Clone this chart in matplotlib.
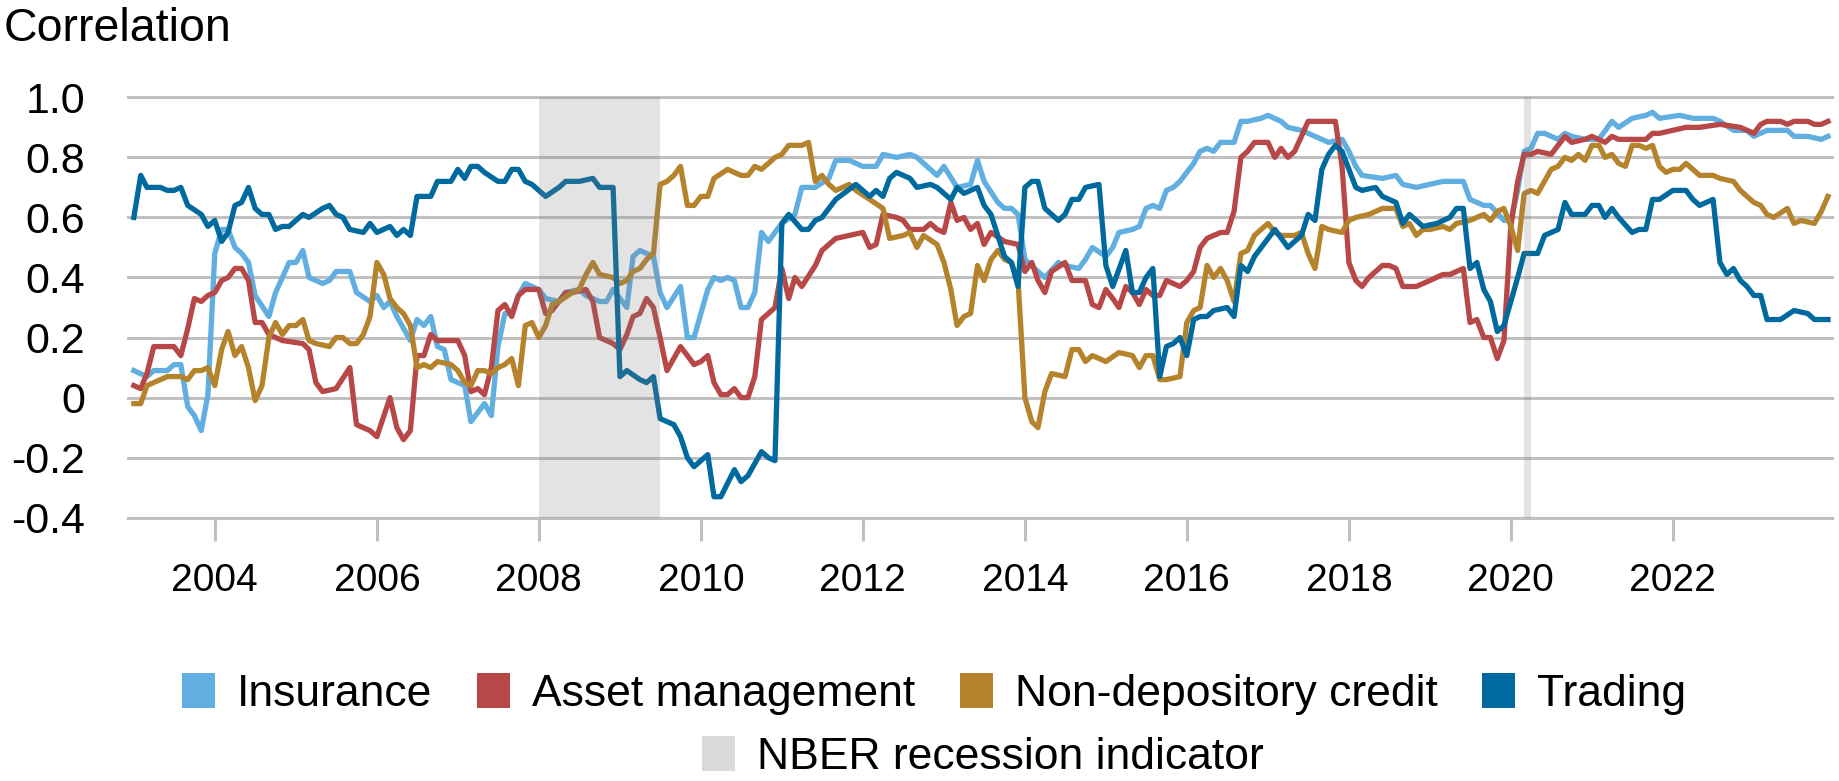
import matplotlib
matplotlib.use("Agg")
import matplotlib.pyplot as plt
import matplotlib.dates as mdates
from matplotlib.patches import Patch
import pandas as pd

plt.rcParams['font.family'] = ['Liberation Sans', 'DejaVu Sans']

# month numbers: 0 = Jan 2003 ... 251 = Dec 2023
ins_m = [0, 2, 3, 5, 6, 7, 8, 9, 10, 11,
         12, 13, 14, 15, 16, 17, 18, 20, 21, 22,
         23, 24, 25, 26, 28, 29, 30, 32, 33, 35,
         36, 37, 38, 39, 41, 42, 43, 44, 45, 46,
         47, 49, 50, 52, 53, 54, 55, 56, 57, 58,
         60, 61, 63, 64, 66, 67, 69, 70, 71, 73,
         74, 75, 77, 78, 79, 81, 82, 83, 84, 85,
         86, 87, 88, 89, 90, 91, 92, 93, 94, 95,
         96, 98, 99, 101, 103, 104, 106, 108, 110, 111,
         113, 115, 116, 118, 119, 120, 122, 124, 125, 126,
         128, 129, 130, 131, 132, 134, 135, 137, 138, 140,
         141, 142, 144, 145, 146, 148, 149, 150, 151, 152,
         153, 154, 155, 157, 158, 159, 160, 161, 163, 164,
         165, 167, 168, 170, 171, 173, 175, 177, 179, 180,
         181, 182, 185, 187, 188, 190, 192, 194, 195, 197,
         198, 200, 201, 203, 204, 205, 206, 207, 208, 209,
         211, 212, 213, 215, 217, 219, 220, 222, 224, 225,
         226, 229, 231, 234, 235, 237, 239, 240, 242, 245,
         246, 248, 250, 251]
ins_v = [0.09, 0.07, 0.09, 0.09, 0.11, 0.11, -0.03, -0.06, -0.11, 0.01,
         0.48, 0.56, 0.56, 0.50, 0.48, 0.45, 0.34, 0.27, 0.35, 0.40,
         0.45, 0.45, 0.49, 0.40, 0.38, 0.39, 0.42, 0.42, 0.35, 0.32,
         0.34, 0.30, 0.32, 0.27, 0.19, 0.26, 0.24, 0.27, 0.17, 0.16,
         0.06, 0.04, -0.08, -0.02, -0.06, 0.17, 0.28, 0.28, 0.34, 0.38,
         0.36, 0.33, 0.32, 0.35, 0.36, 0.34, 0.32, 0.32, 0.36, 0.30,
         0.47, 0.49, 0.47, 0.35, 0.30, 0.37, 0.20, 0.20, 0.28, 0.36,
         0.40, 0.39, 0.40, 0.39, 0.30, 0.30, 0.35, 0.55, 0.52, 0.55,
         0.58, 0.61, 0.70, 0.70, 0.73, 0.79, 0.79, 0.77, 0.77, 0.81,
         0.80, 0.81, 0.80, 0.76, 0.74, 0.77, 0.70, 0.71, 0.79, 0.72,
         0.65, 0.63, 0.63, 0.61, 0.46, 0.42, 0.40, 0.45, 0.44, 0.43,
         0.46, 0.50, 0.47, 0.50, 0.55, 0.56, 0.57, 0.63, 0.64, 0.63,
         0.69, 0.70, 0.72, 0.78, 0.82, 0.83, 0.82, 0.85, 0.85, 0.92,
         0.92, 0.93, 0.94, 0.92, 0.90, 0.89, 0.87, 0.85, 0.86, 0.82,
         0.77, 0.74, 0.73, 0.74, 0.71, 0.70, 0.71, 0.72, 0.72, 0.72,
         0.66, 0.64, 0.64, 0.59, 0.59, 0.69, 0.82, 0.83, 0.88, 0.88,
         0.86, 0.88, 0.87, 0.86, 0.86, 0.92, 0.90, 0.93, 0.94, 0.95,
         0.93, 0.94, 0.93, 0.93, 0.92, 0.89, 0.89, 0.87, 0.89, 0.89,
         0.87, 0.87, 0.86, 0.87]

am_m = [0, 1, 2, 3, 5, 6, 7, 8, 9, 10,
        11, 12, 13, 14, 15, 16, 17, 18, 19, 20,
        22, 25, 26, 27, 28, 30, 32, 33, 35, 36,
        38, 39, 40, 41, 42, 43, 44, 45, 47, 48,
        49, 50, 51, 52, 53, 54, 55, 56, 57, 58,
        60, 61, 62, 64, 65, 67, 68, 69, 70, 71,
        72, 73, 74, 75, 76, 77, 78, 79, 81, 82,
        83, 84, 85, 86, 87, 88, 89, 90, 91, 92,
        93, 94, 95, 96, 97, 98, 99, 101, 102, 104,
        106, 108, 109, 110, 111, 113, 114, 115, 117, 118,
        119, 120, 121, 122, 123, 124, 125, 126, 127, 129,
        131, 132, 133, 134, 135, 136, 138, 139, 141, 142,
        143, 144, 145, 146, 147, 148, 149, 150, 151, 152,
        153, 155, 156, 157, 158, 159, 161, 162, 163, 164,
        165, 166, 168, 169, 170, 171, 172, 173, 174, 175,
        176, 177, 178, 179, 180, 181, 182, 183, 185, 186,
        187, 188, 190, 192, 194, 195, 197, 198, 199, 200,
        201, 202, 203, 204, 205, 206, 207, 208, 210, 212,
        213, 215, 216, 218, 219, 220, 222, 224, 225, 226,
        228, 230, 232, 235, 238, 240, 241, 242, 244, 245,
        246, 248, 249, 250, 251]
am_v = [0.04, 0.03, 0.08, 0.17, 0.17, 0.17, 0.14, 0.23, 0.33, 0.32,
        0.34, 0.35, 0.39, 0.40, 0.43, 0.43, 0.39, 0.25, 0.25, 0.21,
        0.19, 0.18, 0.16, 0.05, 0.02, 0.03, 0.10, -0.09, -0.11, -0.13,
        0.00, -0.10, -0.14, -0.11, 0.14, 0.14, 0.21, 0.19, 0.19, 0.19,
        0.14, 0.02, 0.03, 0.01, 0.10, 0.29, 0.31, 0.27, 0.34, 0.36,
        0.36, 0.28, 0.29, 0.35, 0.35, 0.36, 0.32, 0.20, 0.19, 0.18,
        0.16, 0.21, 0.27, 0.28, 0.33, 0.30, 0.20, 0.09, 0.17, 0.14,
        0.11, 0.12, 0.14, 0.05, 0.01, 0.01, 0.03, 0.00, 0.00, 0.07,
        0.26, 0.28, 0.30, 0.43, 0.33, 0.40, 0.37, 0.44, 0.49, 0.53,
        0.54, 0.55, 0.50, 0.51, 0.61, 0.60, 0.59, 0.56, 0.56, 0.58,
        0.56, 0.55, 0.65, 0.59, 0.60, 0.56, 0.58, 0.51, 0.55, 0.52,
        0.51, 0.42, 0.45, 0.39, 0.35, 0.42, 0.45, 0.39, 0.39, 0.31,
        0.30, 0.36, 0.33, 0.30, 0.37, 0.35, 0.31, 0.36, 0.34, 0.34,
        0.39, 0.37, 0.39, 0.42, 0.50, 0.53, 0.55, 0.55, 0.62, 0.80,
        0.82, 0.85, 0.85, 0.80, 0.83, 0.80, 0.82, 0.87, 0.92, 0.92,
        0.92, 0.92, 0.92, 0.77, 0.45, 0.39, 0.37, 0.40, 0.44, 0.44,
        0.43, 0.37, 0.37, 0.39, 0.41, 0.41, 0.43, 0.25, 0.26, 0.20,
        0.20, 0.13, 0.19, 0.57, 0.72, 0.81, 0.81, 0.82, 0.81, 0.87,
        0.85, 0.86, 0.87, 0.85, 0.87, 0.86, 0.86, 0.86, 0.88, 0.88,
        0.89, 0.90, 0.90, 0.91, 0.90, 0.88, 0.91, 0.92, 0.92, 0.91,
        0.92, 0.92, 0.91, 0.91, 0.92]

nd_m = [0, 1, 2, 3, 5, 6, 7, 8, 9, 10,
        11, 12, 13, 14, 15, 16, 17, 18, 19, 20,
        21, 22, 23, 24, 25, 26, 27, 29, 30, 31,
        32, 33, 34, 35, 36, 37, 38, 39, 40, 41,
        42, 43, 44, 45, 47, 48, 49, 50, 51, 52,
        53, 54, 55, 56, 57, 58, 59, 60, 61, 62,
        63, 65, 66, 67, 68, 69, 71, 72, 73, 74,
        75, 76, 77, 78, 79, 80, 81, 82, 83, 84,
        85, 86, 88, 90, 91, 92, 93, 94, 95, 96,
        97, 99, 100, 101, 102, 103, 104, 106, 107, 109,
        111, 112, 114, 115, 116, 117, 119, 120, 121, 122,
        123, 124, 125, 126, 127, 128, 129, 130, 131, 132,
        133, 134, 135, 136, 138, 139, 140, 141, 142, 144,
        146, 148, 149, 150, 151, 152, 153, 155, 156, 157,
        158, 159, 160, 161, 162, 163, 164, 165, 166, 167,
        168, 169, 170, 172, 173, 174, 175, 176, 177, 179,
        180, 181, 183, 184, 185, 187, 188, 189, 190, 191,
        192, 194, 195, 196, 198, 199, 200, 201, 202, 203,
        204, 205, 206, 207, 208, 210, 211, 212, 213, 214,
        215, 216, 217, 218, 219, 220, 221, 222, 223, 224,
        225, 226, 227, 228, 229, 230, 231, 232, 234, 235,
        237, 238, 239, 240, 241, 242, 243, 245, 246, 247,
        249, 250, 251]
nd_v = [-0.02, -0.02, 0.04, 0.05, 0.07, 0.07, 0.07, 0.06, 0.09, 0.09,
        0.10, 0.04, 0.16, 0.22, 0.14, 0.17, 0.10, -0.01, 0.04, 0.20,
        0.25, 0.21, 0.24, 0.24, 0.26, 0.19, 0.18, 0.17, 0.20, 0.20,
        0.18, 0.18, 0.21, 0.27, 0.45, 0.41, 0.33, 0.30, 0.28, 0.24,
        0.10, 0.11, 0.10, 0.12, 0.11, 0.09, 0.05, 0.04, 0.09, 0.09,
        0.08, 0.10, 0.11, 0.13, 0.04, 0.24, 0.25, 0.20, 0.24, 0.31,
        0.32, 0.35, 0.36, 0.41, 0.45, 0.41, 0.40, 0.38, 0.39, 0.42,
        0.43, 0.46, 0.48, 0.71, 0.72, 0.74, 0.77, 0.64, 0.64, 0.67,
        0.67, 0.73, 0.76, 0.74, 0.74, 0.77, 0.76, 0.78, 0.80, 0.81,
        0.84, 0.84, 0.85, 0.72, 0.74, 0.71, 0.69, 0.71, 0.69, 0.66,
        0.63, 0.53, 0.54, 0.55, 0.50, 0.54, 0.51, 0.45, 0.36, 0.24,
        0.27, 0.28, 0.44, 0.39, 0.46, 0.49, 0.46, 0.45, 0.39, 0.00,
        -0.08, -0.10, 0.02, 0.08, 0.07, 0.16, 0.16, 0.12, 0.14, 0.12,
        0.15, 0.14, 0.10, 0.14, 0.14, 0.06, 0.06, 0.07, 0.25, 0.29,
        0.30, 0.44, 0.40, 0.43, 0.39, 0.32, 0.48, 0.49, 0.54, 0.56,
        0.58, 0.55, 0.54, 0.54, 0.55, 0.48, 0.43, 0.57, 0.56, 0.55,
        0.59, 0.60, 0.61, 0.62, 0.63, 0.63, 0.57, 0.58, 0.54, 0.56,
        0.56, 0.57, 0.56, 0.58, 0.59, 0.60, 0.61, 0.59, 0.62, 0.63,
        0.57, 0.49, 0.68, 0.69, 0.68, 0.76, 0.77, 0.80, 0.79, 0.81,
        0.79, 0.84, 0.84, 0.80, 0.81, 0.78, 0.77, 0.84, 0.84, 0.83,
        0.84, 0.77, 0.75, 0.76, 0.76, 0.78, 0.76, 0.74, 0.74, 0.73,
        0.72, 0.69, 0.67, 0.65, 0.64, 0.61, 0.60, 0.63, 0.58, 0.59,
        0.58, 0.62, 0.67]

tr_m = [0, 1, 2, 4, 5, 6, 7, 8, 10, 11,
        12, 13, 14, 15, 16, 17, 18, 19, 20, 21,
        22, 23, 24, 25, 26, 28, 29, 30, 31, 32,
        34, 35, 36, 38, 39, 40, 41, 42, 44, 45,
        47, 48, 49, 50, 51, 52, 54, 55, 56, 57,
        58, 59, 60, 61, 63, 64, 66, 68, 69, 71,
        72, 73, 75, 76, 77, 78, 80, 81, 82, 83,
        84, 85, 86, 87, 89, 90, 91, 93, 94, 95,
        96, 97, 99, 100, 101, 102, 104, 107, 108, 109,
        110, 111, 112, 113, 115, 116, 118, 119, 121, 122,
        123, 125, 126, 127, 129, 130, 131, 132, 133, 134,
        135, 137, 138, 139, 140, 141, 143, 144, 145, 147,
        148, 149, 150, 151, 152, 153, 154, 155, 156, 157,
        158, 159, 160, 162, 163, 164, 165, 166, 169, 171,
        172, 173, 174, 175, 176, 177, 178, 179, 180, 181,
        182, 184, 185, 187, 188, 189, 191, 193, 195, 196,
        197, 198, 199, 200, 201, 202, 203, 204, 205, 206,
        208, 209, 210, 211, 212, 213, 215, 216, 217, 218,
        219, 220, 222, 223, 224, 225, 226, 228, 230, 231,
        232, 234, 235, 236, 237, 238, 239, 240, 241, 242,
        244, 246, 248, 249, 250, 251]
tr_v = [0.60, 0.74, 0.70, 0.70, 0.69, 0.69, 0.70, 0.64, 0.61, 0.57,
        0.59, 0.52, 0.55, 0.64, 0.65, 0.70, 0.63, 0.61, 0.61, 0.56,
        0.57, 0.57, 0.59, 0.61, 0.60, 0.63, 0.64, 0.61, 0.60, 0.56,
        0.55, 0.58, 0.55, 0.57, 0.54, 0.56, 0.54, 0.67, 0.67, 0.72,
        0.72, 0.76, 0.73, 0.77, 0.77, 0.75, 0.72, 0.72, 0.76, 0.76,
        0.72, 0.71, 0.69, 0.67, 0.70, 0.72, 0.72, 0.73, 0.70, 0.70,
        0.07, 0.09, 0.06, 0.05, 0.07, -0.07, -0.09, -0.13, -0.20, -0.23,
        -0.21, -0.19, -0.33, -0.33, -0.24, -0.28, -0.26, -0.18, -0.20, -0.21,
        0.58, 0.61, 0.56, 0.56, 0.59, 0.60, 0.66, 0.71, 0.69, 0.67,
        0.69, 0.67, 0.73, 0.75, 0.73, 0.70, 0.71, 0.70, 0.66, 0.70,
        0.68, 0.70, 0.64, 0.61, 0.47, 0.45, 0.37, 0.70, 0.72, 0.72,
        0.63, 0.59, 0.61, 0.66, 0.66, 0.70, 0.71, 0.44, 0.37, 0.49,
        0.35, 0.35, 0.40, 0.43, 0.07, 0.17, 0.18, 0.20, 0.14, 0.26,
        0.27, 0.27, 0.29, 0.30, 0.27, 0.44, 0.42, 0.47, 0.56, 0.50,
        0.52, 0.54, 0.61, 0.59, 0.76, 0.81, 0.84, 0.82, 0.76, 0.70,
        0.69, 0.70, 0.67, 0.65, 0.58, 0.61, 0.57, 0.58, 0.60, 0.63,
        0.63, 0.43, 0.45, 0.36, 0.32, 0.22, 0.24, 0.32, 0.40, 0.48,
        0.48, 0.54, 0.55, 0.56, 0.65, 0.61, 0.61, 0.64, 0.64, 0.60,
        0.63, 0.60, 0.55, 0.56, 0.56, 0.66, 0.66, 0.69, 0.69, 0.66,
        0.64, 0.66, 0.45, 0.41, 0.43, 0.39, 0.37, 0.34, 0.34, 0.26,
        0.26, 0.29, 0.28, 0.26, 0.26, 0.26]

names = ["Insurance", "Asset management", "Non-depository credit", "Trading"]
colors = ["#61AEE0", "#B84747", "#B5832C", "#006A9E"]

rec_start = ["2008-01", "2020-03"]
rec_end = ["2009-06", "2020-03"]

y_ticks = [-0.4, -0.2, 0, 0.2, 0.4, 0.6, 0.8, 1.0]
y_labels = ["-0.4", "-0.2", "0", "0.2", "0.4", "0.6", "0.8", "1.0"]

months = pd.period_range("2003-01", "2023-12", freq="M").to_timestamp()

fig = plt.figure(figsize=(18.4, 7.81), dpi=100)
ax = fig.add_axes([0.0696, 0.3371, 0.9259, 0.5383])

series = [(ins_m, ins_v), (am_m, am_v), (nd_m, nd_v), (tr_m, tr_v)]
for (m, v), c in zip(series, colors):
    ax.plot(months[m], v, color=c, lw=3.8, solid_joinstyle='round', zorder=3)

for s, e in zip(rec_start, rec_end):
    x0 = pd.Period(s, "M").to_timestamp()
    x1 = (pd.Period(e, "M") + 1).to_timestamp()
    ax.axvspan(x0, x1, color="#808080", alpha=0.22, lw=0, zorder=4)

ax.set_xlim(pd.Timestamp("2002-12-06"), pd.Timestamp("2023-12-18"))
ax.set_ylim(-0.4, 1.0)
ax.set_yticks(y_ticks, y_labels)
ax.set_axisbelow(True)
ax.yaxis.grid(True, color="#C0C0C0", lw=2.2)
for gl in ax.get_ygridlines():
    gl.set_clip_on(False)

ax.xaxis.set_major_locator(mdates.YearLocator(2))
ax.xaxis.set_major_formatter(mdates.DateFormatter("%Y"))
ax.tick_params(axis="x", length=16.5, width=2.2, color="#C0C0C0", pad=16, labelsize=28)
ax.tick_params(axis="y", length=0, pad=31, labelsize=31)

for side in ["left", "right", "top"]:
    ax.spines[side].set_visible(False)
ax.spines["bottom"].set_color("#C0C0C0")
ax.spines["bottom"].set_linewidth(2.2)

fig.text(0.002, 1 - 7 / 781, "Correlation", fontsize=33.5, va="top", ha="left")

handles = [Patch(facecolor=c, label=n) for c, n in zip(colors, names)]
leg_kw = dict(frameon=False, fontsize=32, handlelength=0.74, handleheight=0.81,
              handletextpad=0.5, columnspacing=1.0, borderpad=0, borderaxespad=0)
fig.legend(handles=handles, loc="center left", ncol=4,
           bbox_to_anchor=(182 / 1840, 1 - 694 / 781), **leg_kw)
fig.legend(handles=[Patch(facecolor="#D9D9D9", label="NBER recession indicator")],
           loc="center left", bbox_to_anchor=(702 / 1840, 1 - 757 / 781), **leg_kw)

fig.savefig("out.png", dpi=100)
plt.close()
